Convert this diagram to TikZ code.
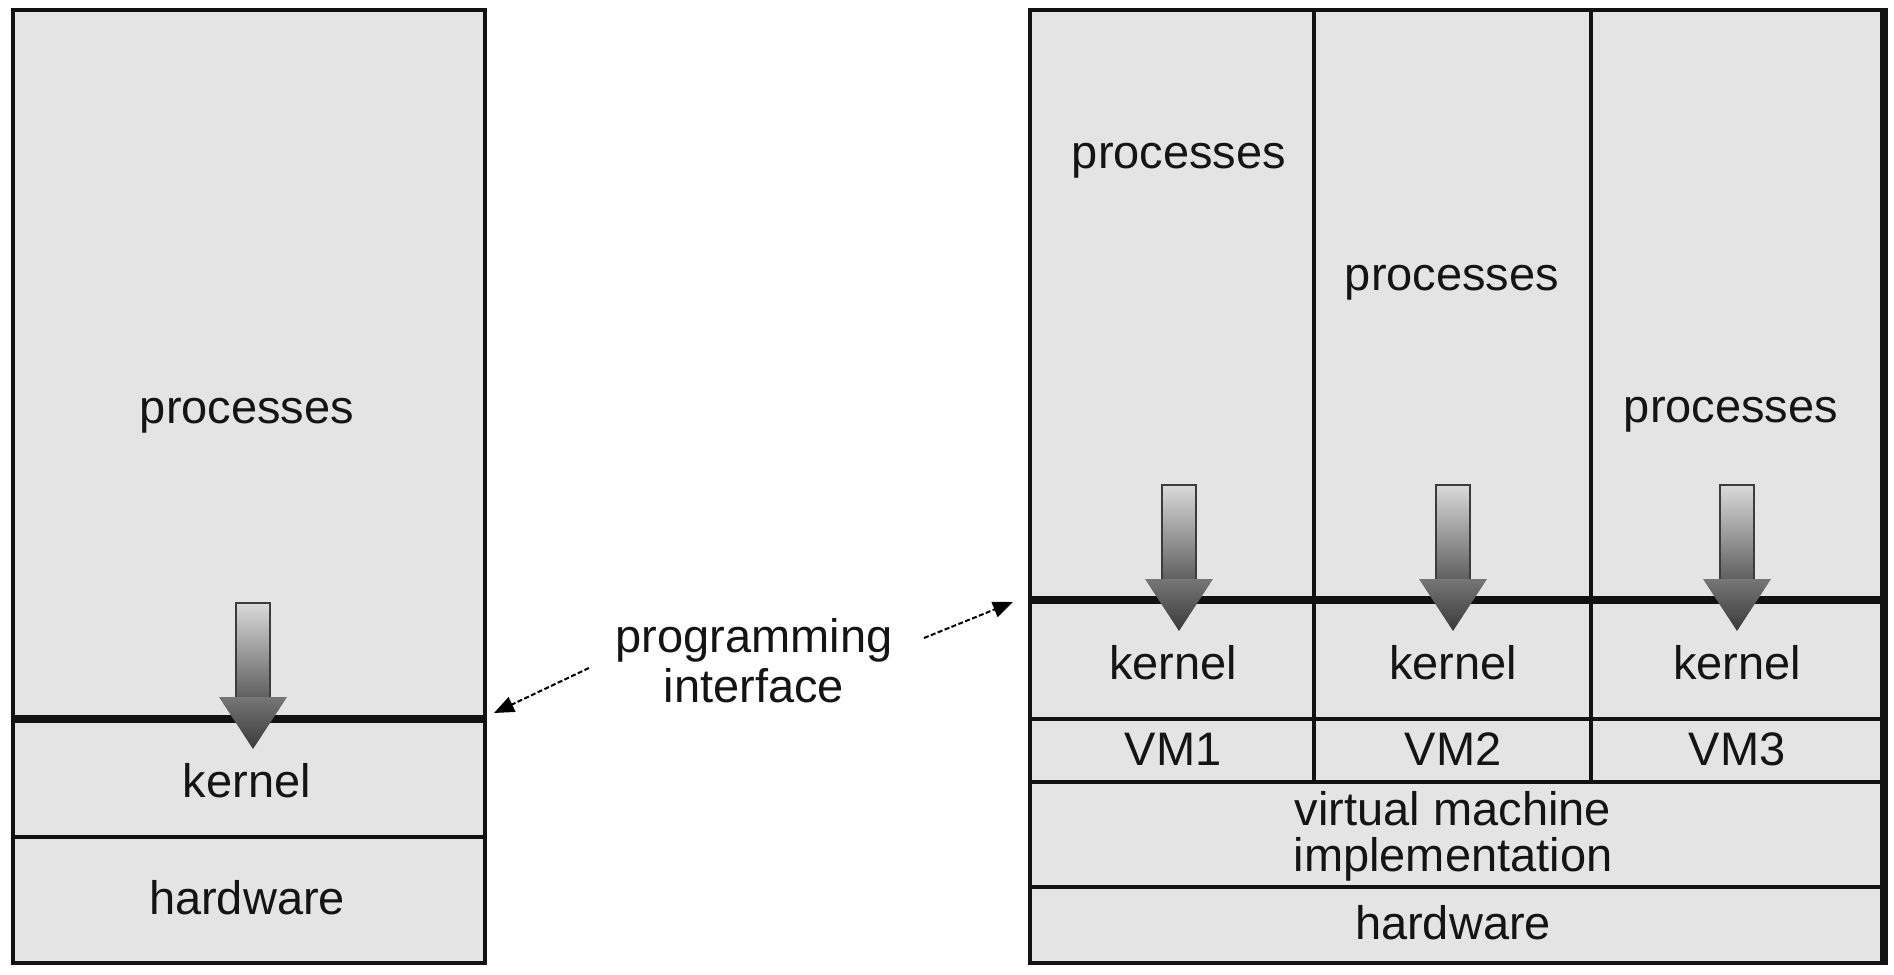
\documentclass[tikz,border=0pt]{standalone}
\usepackage{fontspec}
\setmainfont{Liberation Sans}
\usetikzlibrary{arrows.meta}

\definecolor{layerfill}{RGB}{228,228,228}
\definecolor{edge}{RGB}{18,18,18}
\definecolor{shafttop}{RGB}{218,218,218}
\definecolor{shaftbot}{RGB}{96,96,96}
\definecolor{shaftedge}{RGB}{60,60,60}
\definecolor{headtop}{RGB}{118,118,118}
\definecolor{headbot}{RGB}{58,58,58}

\begin{document}
\begin{tikzpicture}[x=0.5pt,y=-0.5pt,
  outline/.style={draw=edge, line width=2pt},
  thinrule/.style={draw=edge, line width=1.8pt},
  apirule/.style={draw=edge, line width=4pt},
  lbl/.style={font=\fontsize{23.5}{25}\selectfont, anchor=base, inner sep=0pt, text=black!92},
  callout/.style={draw=black, line width=1pt, dash pattern=on 2.5pt off 1.2pt,
    -{Triangle[length=10pt,width=8pt]}},
  procarrow/.pic={
    % shaded shaft
    \shade[top color=shafttop, bottom color=shaftbot] (-17,0) rectangle (17,94);
    \draw[shaftedge, line width=0.8pt] (-17,94) -- (-17,0) -- (17,0) -- (17,94);
    % shaded head
    \shade[top color=headtop, bottom color=headbot] (-34,94) -- (34,94) -- (0,146) -- cycle;
  }]

\useasboundingbox (0,0) rectangle (1894,974);

% ---------- non-virtual machine ----------
\fill[layerfill] (13,10) rectangle (485,963);
\draw[thinrule] (13,837) -- (485,837);
\draw[apirule] (13,719) -- (485,719);
\draw[outline] (13,10) rectangle (485,963);

\node[lbl] (lproc) at (247,423) {processes};
\node[lbl] (lkern) at (247,797) {kernel};
\node[lbl] (lhw)   at (247,914) {hardware};

\pic at (253,603) {procarrow};

% ---------- virtual machines ----------
\fill[layerfill] (1030,10) rectangle (1884,963);
\draw[thinrule] (1314,10) -- (1314,782);
\draw[thinrule] (1591,10) -- (1591,782);
\draw[thinrule] (1030,719) -- (1884,719);
\draw[thinrule] (1030,782) -- (1884,782);
\draw[thinrule] (1030,887) -- (1884,887);
\draw[apirule] (1030,600) -- (1884,600);
\draw[outline] (1030,10) rectangle (1884,963);
\draw[edge, line width=4pt] (1884,8) -- (1884,965);

\node[lbl] (proc1) at (1179,169) {processes};
\node[lbl] (proc2) at (1452,290) {processes};
\node[lbl] (proc3) at (1731,422) {processes};

\node[lbl] (kern1) at (1173,679) {kernel};
\node[lbl] (kern2) at (1453,679) {kernel};
\node[lbl] (kern3) at (1737,679) {kernel};

\node[lbl] (vm1) at (1173,765) {VM1};
\node[lbl] (vm2) at (1453,765) {VM2};
\node[lbl] (vm3) at (1737,765) {VM3};

\node[lbl] (vmi1) at (1453,825) {virtual machine};
\node[lbl] (vmi2) at (1453,871) {implementation};
\node[lbl] (rhw)  at (1453,939) {hardware};

\pic at (1179,485) {procarrow};
\pic at (1453,485) {procarrow};
\pic at (1737,485) {procarrow};

% ---------- programming interface callout ----------
\node[lbl] (prog)  at (754,652) {programming};
\node[lbl] (iface) at (754,702) {interface};

\coordinate (calloutL) at (589,668);
\coordinate (calloutR) at (924,638);
\coordinate (apiL) at (494,713);
\coordinate (apiR) at (1013,602);

\draw[callout] (calloutL) -- (apiL);
\draw[callout] (calloutR) -- (apiR);

\end{tikzpicture}
\end{document}
